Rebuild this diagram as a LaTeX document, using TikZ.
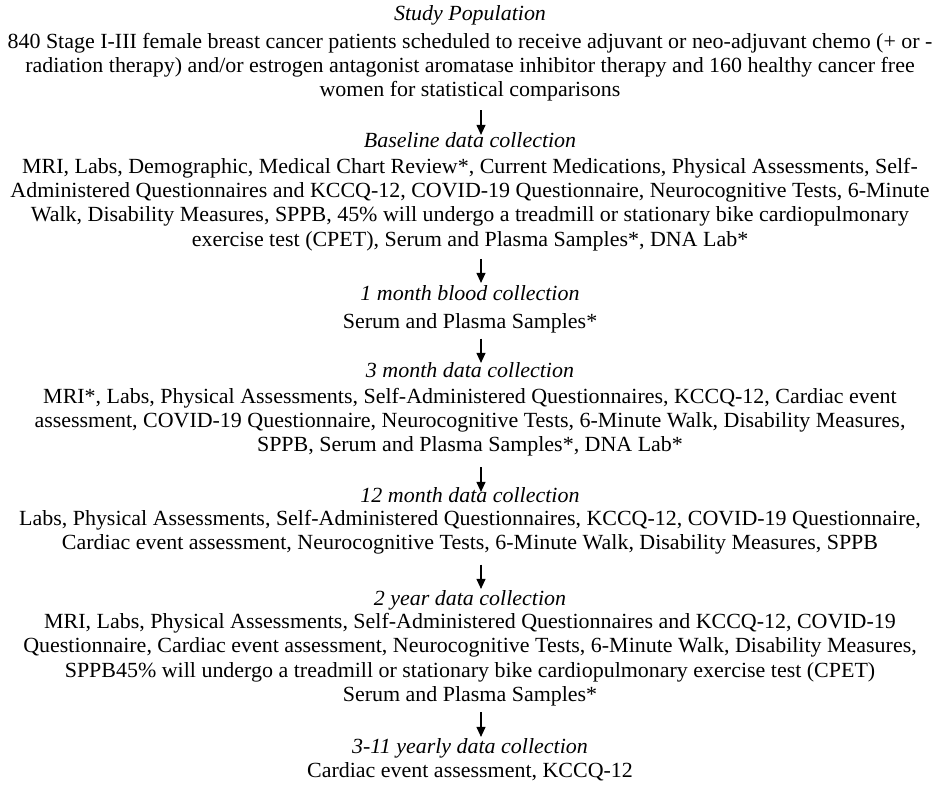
\documentclass[tikz,border=0pt]{standalone}
\usepackage{fontspec}
\setmainfont{Liberation Serif}[FakeStretch=1.017]
\usetikzlibrary{arrows.meta}
\tikzset{
  block/.style={anchor=north, align=center, inner sep=0pt, text=black,
    font=\fontsize{21.6}{24.4}\selectfont},
  arr/.style={-{Triangle[width=9pt,length=10pt]}, line width=1.1pt, draw=black},
}
\begin{document}
\begin{tikzpicture}[x=1pt,y=-1pt]
\useasboundingbox (0,0) rectangle (940,785);
\coordinate (ax) at (481,0);
\node[block] (b1) at (470,2.9) {\strut\textit{Study Population}\\[3.5pt]
840 Stage I-III female breast cancer patients scheduled to receive adjuvant or neo-adjuvant chemo (+ or -\\
radiation therapy) and/or estrogen antagonist aromatase inhibitor therapy and 160 healthy cancer free\\
women for statistical comparisons\strut};
\node[block] (b2) at (470,129.9) {\strut\textit{Baseline data collection}\\[1.5pt]
MRI, Labs, Demographic, Medical Chart Review*, Current Medications, Physical Assessments, Self-\\
Administered Questionnaires and KCCQ-12, COVID-19 Questionnaire, Neurocognitive Tests, 6-Minute\\
Walk, Disability Measures, SPPB, 45\% will undergo a treadmill or stationary bike cardiopulmonary\\
exercise test (CPET), Serum and Plasma Samples*, DNA Lab*\strut};
\node[block] (b3) at (470,282.9) {\strut\textit{1 month blood collection}\\[3.5pt]
Serum and Plasma Samples*\strut};
\node[block] (b4) at (470,359.9) {\strut\textit{3 month data collection}\\[1.5pt]
MRI*, Labs, Physical Assessments, Self-Administered Questionnaires, KCCQ-12, Cardiac event\\
assessment, COVID-19 Questionnaire, Neurocognitive Tests, 6-Minute Walk, Disability Measures,\\
SPPB, Serum and Plasma Samples*, DNA Lab*\strut};
\node[block] (b5) at (470,484.9) {\strut\textit{12 month data collection}\\[-1pt]
Labs, Physical Assessments, Self-Administered Questionnaires, KCCQ-12, COVID-19 Questionnaire,\\
Cardiac event assessment, Neurocognitive Tests, 6-Minute Walk, Disability Measures, SPPB\strut};
\node[block] (b6) at (470,587.9) {\strut\textit{2 year data collection}\\[-1pt]
MRI, Labs, Physical Assessments, Self-Administered Questionnaires and KCCQ-12, COVID-19\\
Questionnaire, Cardiac event assessment, Neurocognitive Tests, 6-Minute Walk, Disability Measures,\\
SPPB45\% will undergo a treadmill or stationary bike cardiopulmonary exercise test (CPET)\\
Serum and Plasma Samples*\strut};
\node[block] (b7) at (470,735.9) {\strut\textit{3-11 yearly data collection}\\
Cardiac event assessment, KCCQ-12\strut};
\draw[arr, shorten <=6pt, shorten >=-5pt] (b1.south -| ax) -- (b2.north -| ax);
\draw[arr, shorten <=5pt, shorten >=0pt] (b2.south -| ax) -- (b3.north -| ax);
\draw[arr, shorten <=3pt, shorten >=-3pt] (b3.south -| ax) -- (b4.north -| ax);
\draw[arr, shorten <=8pt, shorten >=-7pt] (b4.south -| ax) -- (b5.north -| ax);
\draw[arr, shorten <=7pt, shorten >=-1pt] (b5.south -| ax) -- (b6.north -| ax);
\draw[arr, shorten <=3pt, shorten >=-1pt] (b6.south -| ax) -- (b7.north -| ax);
\end{tikzpicture}
\end{document}
